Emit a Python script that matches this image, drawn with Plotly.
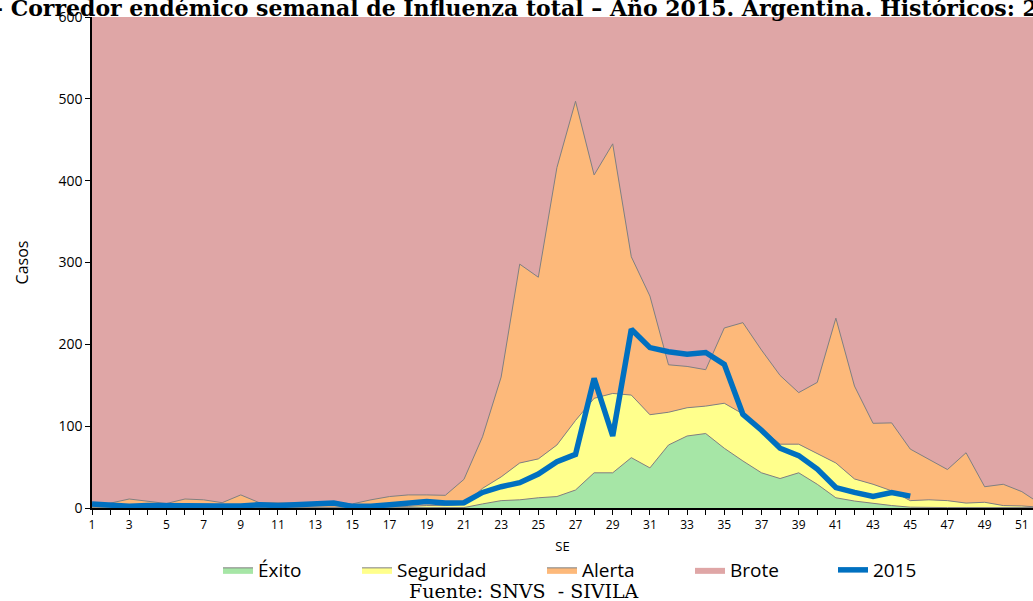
import plotly.graph_objects as go

# Semanas epidemiologicas
semanas = list(range(1, 53))

# Limite superior de cada zona del corredor (casos)
exito = [0, 0, 0, 0, 0, 0, 0, 0, 0, 0, 0, 0, 0, 0, 0, 0, 0, 0, 0, 0,
         0.5, 5, 9, 10, 12.5, 14, 22, 43, 43, 61.5, 49, 77, 88, 91, 73, 57.5,
         43, 36, 43, 29, 12.5, 8.5, 5.5, 3, 1, 0.5, 0.5, 0.5, 0.5, 0.5, 0.5, 0.5]
seguridad = [1, 1, 1, 1, 1, 1, 1, 1, 1, 1, 1, 1, 1, 1, 1, 1, 2, 2, 3, 3,
             4, 24, 38, 55, 60, 77, 107, 134, 140, 138, 114, 117, 122.5, 124.5, 128, 115,
             97, 78, 78, 67, 55, 35.5, 29, 21, 9, 10, 9, 6, 7, 3, 2.5, 1]
alerta = [2, 6, 11, 8.5, 5.5, 11, 10, 6.5, 16, 6.5, 6, 6, 6, 7, 5, 10,
          14, 16, 16, 15.5, 35, 87, 160, 298, 282, 416, 497, 407, 445, 307, 259, 175,
          173, 169, 220, 226.5, 193, 162, 141, 153.5, 232, 149, 103.5, 104, 72, 59.5,
          47, 67.5, 26, 29, 20, 5]
brote_techo = 600

semanas_2015 = list(range(1, 46))
casos_2015 = [5, 3, 2, 3, 2.5, 2, 2, 2.5, 2.5, 4, 3, 3.5, 5, 6, 2, 2, 4, 6, 8, 6,
              6.5, 19, 26, 31, 41.5, 56.5, 65.5, 158.5, 88, 218.5, 196, 191, 188, 190,
              175.5, 114.5, 95, 73, 64, 47.5, 25, 19, 14, 19, 14.5]

tick_vals = semanas
tick_text = [str(s) if s % 2 == 1 else "" for s in semanas]

gris = "#808080"
fuente = "Open Sans"


def px_x(p):
    # posicion horizontal en pixeles -> coordenada paper
    return (p - 92) / 941


def px_y(p):
    return (508 - p) / 491


fig = go.Figure()

fig.add_trace(go.Scatter(x=semanas, y=exito, mode="lines", name="Éxito",
                         line=dict(color=gris, width=1), fill="tozeroy",
                         fillcolor="#A6E6A6", legend="legend"))
fig.add_trace(go.Scatter(x=semanas, y=seguridad, mode="lines", name="Seguridad",
                         line=dict(color=gris, width=1), fill="tonexty",
                         fillcolor="#FFFF8C", legend="legend2"))
fig.add_trace(go.Scatter(x=semanas, y=alerta, mode="lines", name="Alerta",
                         line=dict(color=gris, width=1), fill="tonexty",
                         fillcolor="#FDB97A", legend="legend3"))
fig.add_trace(go.Scatter(x=semanas, y=[brote_techo] * len(semanas), mode="lines",
                         name="Brote", line=dict(color="#A06060", width=0),
                         fill="tonexty", fillcolor="#DFA6A6", legend="legend4"))
fig.add_trace(go.Scatter(x=semanas_2015, y=casos_2015, mode="lines", name="2015",
                         line=dict(color="#0070C0", width=5.5), legend="legend5"))

leg = dict(orientation="h", yanchor="middle", y=px_y(570), xanchor="left",
           bgcolor="rgba(0,0,0,0)", font=dict(family=fuente, size=19, color="black"),
           itemwidth=30)

fig.update_layout(
    width=1033, height=601,
    margin=dict(l=92, r=0, t=17, b=93, autoexpand=False),
    paper_bgcolor="white",
    plot_bgcolor="#DFA6A6",
    font=dict(family=fuente, color="black"),
    showlegend=True,
    legend=dict(leg, x=px_x(218)),
    legend2=dict(leg, x=px_x(357)),
    legend3=dict(leg, x=px_x(542)),
    legend4=dict(leg, x=px_x(690)),
    legend5=dict(leg, x=px_x(833)),
    xaxis=dict(range=[1, 51.6], tickvals=tick_vals, ticktext=tick_text,
               ticks="outside", ticklen=5, tickcolor="black",
               showline=True, linecolor="black", linewidth=1.5,
               showgrid=False, zeroline=False,
               tickfont=dict(size=12),
               title=dict(text="SE", font=dict(size=13), standoff=10)),
    yaxis=dict(range=[0, 600], dtick=100, ticks="outside", ticklen=5,
               tickcolor="black", showline=True, linecolor="black", linewidth=1.5,
               showgrid=True, gridcolor="rgba(170,100,100,0.4)", griddash="dash",
               gridwidth=1, zeroline=False,
               tickfont=dict(size=14),
               title=dict(text="Casos", font=dict(size=16), standoff=26)),
    annotations=[
        dict(text="<b>– Corredor endémico semanal de Influenza total – Año 2015. Argentina. Históricos: 2010-2014</b>",
             xref="paper", yref="paper", x=px_x(-10), y=px_y(8),
             xanchor="left", yanchor="middle", showarrow=False,
             font=dict(family="DejaVu Serif", size=22, color="black")),
        dict(text="Fuente: SNVS  - SIVILA", xref="paper", yref="paper",
             x=px_x(524), y=px_y(591), xanchor="center", yanchor="middle",
             showarrow=False, font=dict(family="DejaVu Serif", size=19, color="black")),
    ],
)

# la pagina trae margen por defecto en body; lo quitamos
fig.write_html("out.html", config={"displayModeBar": False},
               post_script="document.body.style.margin='0px';")
